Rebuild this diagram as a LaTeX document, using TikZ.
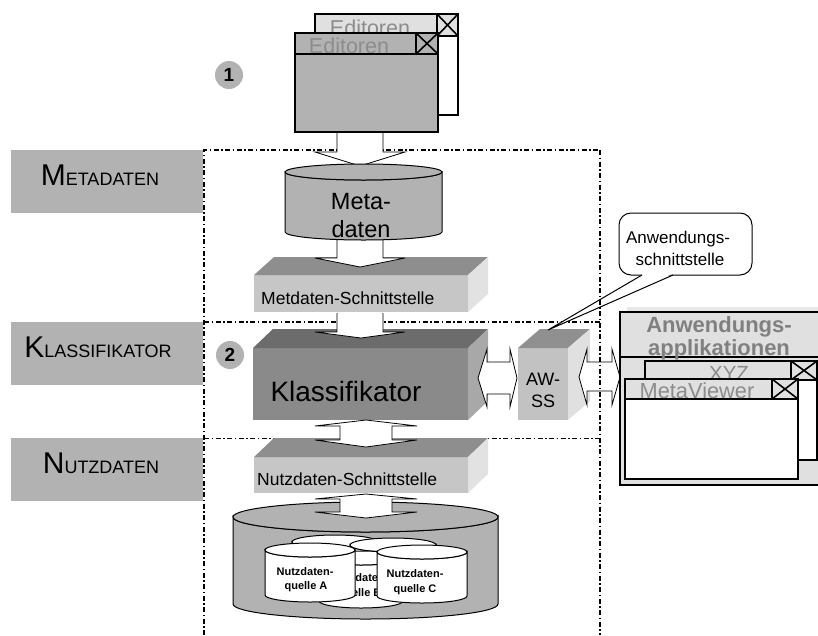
\documentclass[tikz,border=0pt]{standalone}
\usepackage{fontspec}
\setmainfont{Liberation Sans}
\definecolor{lblgray}{HTML}{B2B2B2}
\definecolor{ltgray}{HTML}{E0E0E0}
\definecolor{txtgray}{HTML}{8C8C8C}
\definecolor{hdrgray}{HTML}{808080}
\definecolor{sfront}{HTML}{C6C6C6}
\definecolor{stop}{HTML}{8E8E8E}
\definecolor{sright}{HTML}{E2E2E2}
\definecolor{kfront}{HTML}{8A8A8A}
\definecolor{ktop}{HTML}{6C6C6C}
\definecolor{kright}{HTML}{A8A8A8}
\definecolor{afront}{HTML}{C2C2C2}
\definecolor{atop}{HTML}{909090}
\definecolor{aright}{HTML}{E0E0E0}
\definecolor{cylgray}{HTML}{B2B2B2}
\definecolor{panelgray}{HTML}{E0E0E0}
\definecolor{shadowgray}{HTML}{E8E8E8}
\newcommand\myfs[1]{\fontsize{#1}{#1}\selectfont}
% 3D box: x0 y0 x1 y1 (front face), dx, dy (depth), front, top, right colours
\newcommand\mybox[9]{%
  \fill[#7] (#1,#2) rectangle (#3,#4);
  \fill[#8] (#1,#2) -- ({#1+#5},{#2-#6}) -- ({#3+#5},{#2-#6}) -- (#3,#2) -- cycle;
  \fill[#9] (#3,#2) -- ({#3+#5},{#2-#6}) -- ({#3+#5},{#4-#6}) -- (#3,#4) -- cycle;}
% cylinder: cx, ytop, ybottom, rx, ry, fill
\newcommand\mycyl[6]{%
  \filldraw[fill=#6, line width=1pt] ({#1-#4},#2) -- ({#1-#4},#3)
     arc[start angle=180,end angle=0,x radius=#4,y radius=#5] -- ({#1+#4},#2)
     arc[start angle=0,end angle=180,x radius=#4,y radius=#5] -- cycle;
  \filldraw[fill=#6, line width=1pt] (#1,#2) ellipse[x radius=#4,y radius=#5];}
\begin{document}
\begin{tikzpicture}[x=1pt,y=-1pt,
  dd/.style={line width=1.3pt, dash pattern=on 5pt off 2.5pt on 1.5pt off 2.5pt},
  blk/.style={draw=black, fill=white, line width=0.8pt, line join=miter},
  win/.style={draw=black, line width=1.6pt},
  txt/.style={inner sep=0pt, anchor=base},
  lblbox/.style={fill=lblgray, draw=none, inner sep=0pt, minimum width=192pt, minimum height=63pt},
  numc/.style={circle, fill=lblgray, inner sep=0pt, minimum size=28pt, font=\myfs{19}\bfseries}]
\useasboundingbox (0,0) rectangle (818,635);
\fill[white] (0,0) rectangle (818,635);

% left layer labels
\node[lblbox] (mbox) at (107,181.5) {};
\node[lblbox] (kbox) at (107,353) {};
\node[lblbox] (nbox) at (107,469.5) {};
\node[txt] (lm) at (100,185) {\myfs{30}M\myfs{18}ETADATEN};
\node[txt] (lk) at (98,357) {\myfs{30}K\myfs{18}LASSIFIKATOR};
\node[txt] (ln) at (101,473) {\myfs{30}N\myfs{18}UTZDATEN};

% dash-dot frame
\draw[dd] (204,635) -- (204,150) -- (600,150);
\draw[dd] (204,322) -- (600,322);
\draw[dd, line width=0.9pt] (204,438) -- (600,438);

% editor windows
\draw[win, fill=white] (315,14) rectangle (458,115);
\draw[win, fill=ltgray] (315,14) rectangle (458,36);
\node[txt, text=txtgray] (eb) at (370,35) {\myfs{21.5}Editoren};
\draw[win] (437,14) rectangle (458,36) (437,14) -- (458,36) (458,14) -- (437,36);
\draw[win, fill=lblgray] (295,33) rectangle (438,132);
\node[txt, text=txtgray] (ef) at (349,53) {\myfs{21.5}Editoren};
\draw[win] (295,54) -- (438,54);
\draw[win] (416,33) rectangle (438,54) (416,33) -- (438,54) (438,33) -- (416,54);

\node[numc] (c1) at (229,75) {1};

% arrow editors -> Metadaten
\filldraw[blk] (337,133) -- (337,152) -- (315,152) -- (360,166) -- (405,152) -- (383,152) -- (383,133);

% Metdaten-Schnittstelle
\mybox{254}{275}{468}{312}{20}{18}{sfront}{stop}{sright}
\node[txt, anchor=base west] (ms) at (261,304) {\myfs{17.5}Metdaten-Schnittstelle};
% arrow Metadaten -> Schnittstelle
\filldraw[blk] (337,230) -- (337,258) -- (315,258) -- (360,267) -- (405,258) -- (383,258) -- (383,230);
% Metadaten cylinder
\mycyl{363.5}{172}{232}{78.5}{8}{cylgray}
\node[txt] (meta1) at (361,209) {\myfs{23.5}Meta-};
\node[txt] (meta2) at (361,237) {\myfs{23.5}daten};

% Klassifikator
\mybox{253}{348}{468}{420}{20}{19}{kfront}{ktop}{kright}
\node[txt] (kl) at (346,401) {\myfs{28}Klassifikator};
\filldraw[blk] (337,313) -- (337,332) -- (315,332) -- (361,338) -- (405,332) -- (383,332) -- (383,313);
\node[numc] (c2) at (230,355) {2};

% AW-SS
\mybox{518}{348}{568}{420}{22}{19}{afront}{atop}{aright}
\node[txt] (aw1) at (543,385) {\myfs{18}AW-};
\node[txt] (aw2) at (543,407) {\myfs{18}SS};

% horizontal double arrows
\filldraw[blk] (478,378) -- (487,349) -- (487,362) -- (510,362) -- (510,349) -- (517,378)
   -- (510,407) -- (510,394) -- (487,394) -- (487,407) -- cycle;
\filldraw[blk] (579,377) -- (587,349) -- (587,362) -- (612,362) -- (612,349) -- (620,377)
   -- (612,405) -- (612,391) -- (587,391) -- (587,405) -- cycle;

% Nutzdaten-Schnittstelle
\mybox{254}{457}{468}{493}{20}{19}{sfront}{stop}{sright}
\node[txt, anchor=base west] (ns) at (257,485) {\myfs{17.5}Nutzdaten-Schnittstelle};
\filldraw[blk] (366,420) -- (417,426) -- (392,426) -- (392,440) -- (417,440) -- (366,447)
   -- (315,440) -- (340,440) -- (340,426) -- (315,426) -- cycle;

% big cylinder with sources
\mycyl{365.5}{517}{604}{132.5}{15}{cylgray}
\mycyl{335}{542}{590}{43}{7}{white}
\mycyl{393}{545}{593}{43}{7}{white}
\mycyl{361}{558}{601}{42}{7}{white}
\node[txt] (b1) at (360,581) {\myfs{11}\bfseries Nutzdaten-};
\node[txt] (b2) at (360,596) {\myfs{11}\bfseries quelle B};
\mycyl{310}{550}{595}{45}{7}{white}
\node[txt] (a1) at (305,575) {\myfs{11}\bfseries Nutzdaten-};
\node[txt] (a2) at (306,589) {\myfs{11}\bfseries quelle A};
\mycyl{422}{552}{596}{45}{7}{white}
\node[txt] (cc1) at (415,577) {\myfs{11}\bfseries Nutzdaten-};
\node[txt] (cc2) at (415,592) {\myfs{11}\bfseries quelle C};
\filldraw[blk] (366,494) -- (417,499) -- (392,499) -- (392,512) -- (417,512) -- (366,518)
   -- (315,512) -- (340,512) -- (340,499) -- (315,499) -- cycle;

% application panel
\fill[shadowgray] (627,307) rectangle (830,480);
\draw[line width=1.5pt, fill=panelgray] (620,312) rectangle (830,485);
\draw[line width=1.5pt] (620,357) -- (830,357);
\node[txt, text=hdrgray] (h1) at (719,332) {\myfs{22}\bfseries Anwendungs-};
\node[txt, text=hdrgray] (h2) at (719,355) {\myfs{22}\bfseries applikationen};
% XYZ window
\draw[win, fill=white] (645,361) rectangle (817,460);
\draw[win, fill=ltgray] (645,361) rectangle (817,380);
\node[txt, text=txtgray] (xyz) at (729,380) {\myfs{20.5}XYZ};
\draw[win] (791,361) rectangle (817,380) (791,361) -- (817,380) (817,361) -- (791,380);
% MetaViewer window
\draw[win, fill=white] (625,379) rectangle (798,479);
\draw[win, fill=ltgray] (625,379) rectangle (798,399);
\node[txt, text=txtgray] (mv) at (697,398) {\myfs{21.8}MetaViewer};
\draw[win] (772,379) rectangle (798,399) (772,379) -- (798,399) (798,379) -- (772,399);

% callout
\draw[line width=1pt, fill=white, rounded corners=12pt] (619,213) rectangle (752,275);
\fill[white] (643,274) -- (548,330) -- (672,274) -- cycle;
\draw[line width=1pt] (642,275) -- (548,330) -- (673,275);
\node[txt] (cl1) at (678,243) {\myfs{17}Anwendungs-};
\node[txt] (cl2) at (680,265) {\myfs{17}schnittstelle};

% right frame line on top
\draw[dd] (600,150) -- (600,635);
\end{tikzpicture}
\end{document}
